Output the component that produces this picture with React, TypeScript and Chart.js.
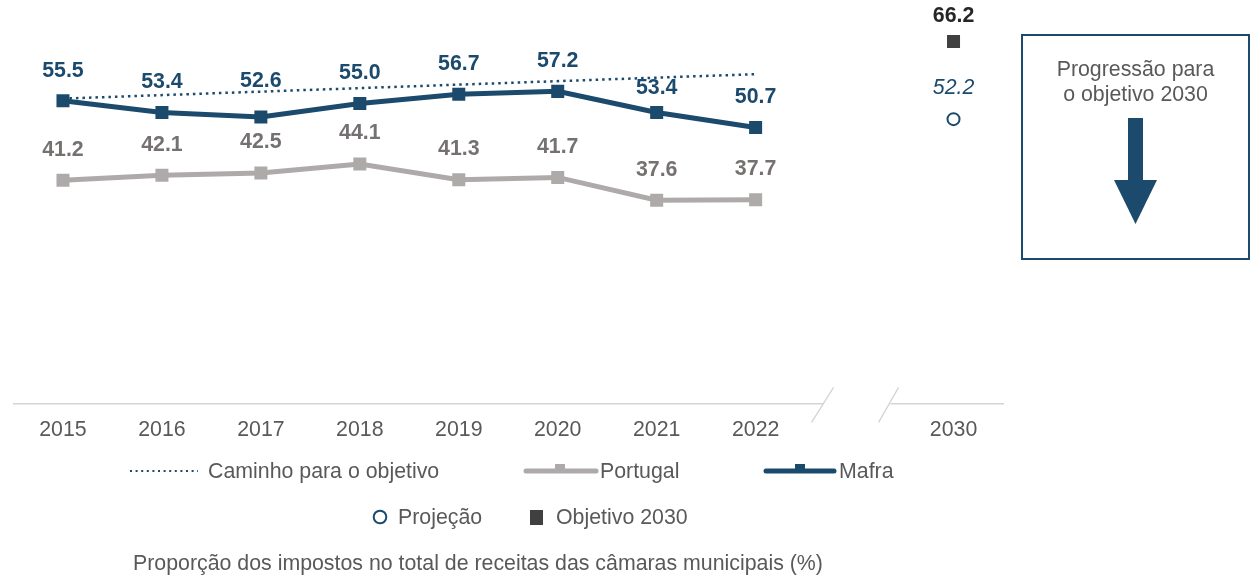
import React, { useEffect, useRef } from "react";
import { Chart, registerables } from "chart.js";

Chart.register(...registerables);

const categories = ["2015", "2016", "2017", "2018", "2019", "2020", "2021", "2022", "", "2030"];
const mafraValues = [55.5, 53.4, 52.6, 55.0, 56.7, 57.2, 53.4, 50.7, null, null];
const portugalValues = [41.2, 42.1, 42.5, 44.1, 41.3, 41.7, 37.6, 37.7, null, null];
const pathValues = [55.9, null, null, null, null, null, null, 60.3, null, null];
const projectionValues = [null, null, null, null, null, null, null, null, null, 52.2];
const targetValues = [null, null, null, null, null, null, null, null, null, 66.2];

const NAVY = "#1B4A6D";
const GRAY_LINE = "#AEAAAA";
const GRAY_LABEL = "#767171";
const TEXT = "#595959";
const FONT = "'Liberation Sans', Arial, sans-serif";
const FS = 21.33;

// y pixel of the dotted path at a given x, read from the drawn path dataset
function pathYAt(chart: any, x: number): number | null {
  const meta = chart.getDatasetMeta(0);
  const pts = meta.data.filter((_: any, k: number) => pathValues[k] !== null);
  if (pts.length < 2) return null;
  const a = pts[0];
  const b = pts[pts.length - 1];
  if (x < a.x || x > b.x) return null;
  return a.y + ((b.y - a.y) * (x - a.x)) / (b.x - a.x);
}

const dataLabelPlugin = {
  id: "dataLabels",
  afterDatasetsDraw(chart: any) {
    const ctx = chart.ctx;
    chart.data.datasets.forEach((ds: any, i: number) => {
      if (!ds.labelStyle) return;
      const meta = chart.getDatasetMeta(i);
      meta.data.forEach((el: any, j: number) => {
        const v = ds.data[j];
        if (v === null || v === undefined) return;
        let cy = el.y - ds.labelStyle.offset;
        if (ds.labelStyle.avoidPath) {
          const dy = pathYAt(chart, el.x);
          if (dy !== null && Math.abs(cy - dy) < 9.5) {
            cy = cy < dy ? dy - 10 : dy + 10;
          }
        }
        ctx.save();
        ctx.font = ds.labelStyle.font;
        ctx.fillStyle = ds.labelStyle.color;
        ctx.textAlign = "center";
        ctx.textBaseline = "middle";
        ctx.fillText(v.toFixed(1), el.x, cy);
        ctx.restore();
      });
    });
  },
};

const axisBreakPlugin = {
  id: "axisBreak",
  afterDraw(chart: any) {
    const ctx = chart.ctx;
    const x = chart.scales.x;
    const cx = x.getPixelForValue(8);
    const y = chart.chartArea.bottom;
    ctx.save();
    ctx.fillStyle = "#ffffff";
    ctx.fillRect(cx - 31, y - 4, 67, 8);
    ctx.strokeStyle = "#D4D4D4";
    ctx.lineWidth = 1.3;
    ctx.beginPath();
    ctx.moveTo(cx - 43, y + 19);
    ctx.lineTo(cx - 21, y - 16);
    ctx.moveTo(cx + 24, y + 19);
    ctx.lineTo(cx + 44, y - 16);
    ctx.stroke();
    ctx.restore();
  },
};

export default function App() {
  const ref = useRef<HTMLCanvasElement | null>(null);

  useEffect(() => {
    if (!ref.current) return;
    const chart = new Chart(ref.current, {
      type: "line",
      data: {
        labels: categories,
        datasets: [
          {
            label: "Caminho para o objetivo",
            data: pathValues,
            borderColor: NAVY,
            borderWidth: 2.5,
            borderDash: [2.5, 4],
            pointRadius: 0,
            spanGaps: true,
            fill: false,
          } as any,
          {
            label: "Portugal",
            data: portugalValues,
            borderColor: GRAY_LINE,
            backgroundColor: GRAY_LINE,
            borderWidth: 5,
            pointStyle: "rect",
            pointRadius: 9.2,
            pointBorderWidth: 0,
            fill: false,
            labelStyle: { font: `bold ${FS}px ${FONT}`, color: GRAY_LABEL, offset: 30.5 },
          },
          {
            label: "Mafra",
            data: mafraValues,
            borderColor: NAVY,
            backgroundColor: NAVY,
            borderWidth: 5,
            pointStyle: "rect",
            pointRadius: 9.2,
            pointBorderWidth: 0,
            fill: false,
            labelStyle: { font: `bold ${FS}px ${FONT}`, color: NAVY, offset: 30, avoidPath: true },
          },
          {
            label: "Projeção",
            data: projectionValues,
            showLine: false,
            borderColor: NAVY,
            backgroundColor: "#ffffff",
            pointStyle: "circle",
            pointRadius: 6,
            pointBorderWidth: 2,
            labelStyle: { font: `italic ${FS}px ${FONT}`, color: NAVY, offset: 31.5 },
          },
          {
            label: "Objetivo 2030",
            data: targetValues,
            showLine: false,
            borderColor: "#404040",
            backgroundColor: "#404040",
            pointStyle: "rect",
            pointRadius: 9.2,
            pointBorderWidth: 0,
            labelStyle: { font: `bold ${FS}px ${FONT}`, color: "#262626", offset: 25.5 },
          },
        ],
      },
      options: {
        animation: false,
        responsive: false,
        maintainAspectRatio: false,
        layout: { padding: { left: 13.5, right: 256, top: 8, bottom: 124 } },
        plugins: {
          legend: { display: false },
          tooltip: { enabled: false },
          title: { display: false },
        },
        scales: {
          x: {
            offset: true,
            grid: { display: false, drawTicks: false },
            border: { display: true, color: "#D4D4D4", width: 1.5 },
            ticks: {
              color: TEXT,
              font: { family: FONT, size: FS },
              padding: 13.5,
              maxRotation: 0,
              autoSkip: false,
            },
          },
          y: {
            display: false,
            min: 1,
            max: 72,
          },
        },
      },
      plugins: [dataLabelPlugin, axisBreakPlugin],
    });
    return () => chart.destroy();
  }, []);

  const textStyle: React.CSSProperties = {
    position: "absolute",
    fontFamily: FONT,
    fontSize: FS,
    color: TEXT,
    lineHeight: "24px",
    whiteSpace: "nowrap",
  };

  return (
    <div style={{ position: "fixed", left: 0, top: 0, width: 1259, height: 580, background: "#fff" }}>
      <canvas ref={ref} width={1259} height={580} style={{ display: "block", width: 1259, height: 580 }} />
      <svg
        width={1259}
        height={580}
        style={{ position: "absolute", left: 0, top: 0, pointerEvents: "none" }}
      >
        <line x1={130} y1={471} x2={198} y2={471} stroke={NAVY} strokeWidth={2} strokeDasharray="2 3.6" />
        <line x1={526} y1={471} x2={596} y2={471} stroke={GRAY_LINE} strokeWidth={5} strokeLinecap="round" />
        <rect x={555} y={464} width={10} height={8} fill={GRAY_LINE} />
        <line x1={766} y1={471} x2={834} y2={471} stroke={NAVY} strokeWidth={5} strokeLinecap="round" />
        <rect x={795} y={464} width={10} height={8} fill={NAVY} />
        <circle cx={380} cy={517} r={6.3} fill="#fff" stroke={NAVY} strokeWidth={2} />
        <rect x={530} y={510} width={13} height={15} fill="#404040" />
        <rect x={1022} y={35} width={227} height={224} fill="none" stroke={NAVY} strokeWidth={2} />
        <rect x={1128} y={118} width={15} height={64} fill={NAVY} />
        <polygon points="1114,180 1157,180 1135.5,224" fill={NAVY} />
      </svg>
      <div style={{ ...textStyle, left: 208, top: 459 }}>Caminho para o objetivo</div>
      <div style={{ ...textStyle, left: 600, top: 459 }}>Portugal</div>
      <div style={{ ...textStyle, left: 839, top: 459 }}>Mafra</div>
      <div style={{ ...textStyle, left: 398, top: 505 }}>Projeção</div>
      <div style={{ ...textStyle, left: 556, top: 505 }}>Objetivo 2030</div>
      <div style={{ ...textStyle, left: 133, top: 551 }}>
        Proporção dos impostos no total de receitas das câmaras municipais (%)
      </div>
      <div style={{ ...textStyle, left: 1022, width: 227, textAlign: "center", top: 57 }}>Progressão para</div>
      <div style={{ ...textStyle, left: 1022, width: 227, textAlign: "center", top: 82 }}>o objetivo 2030</div>
    </div>
  );
}
